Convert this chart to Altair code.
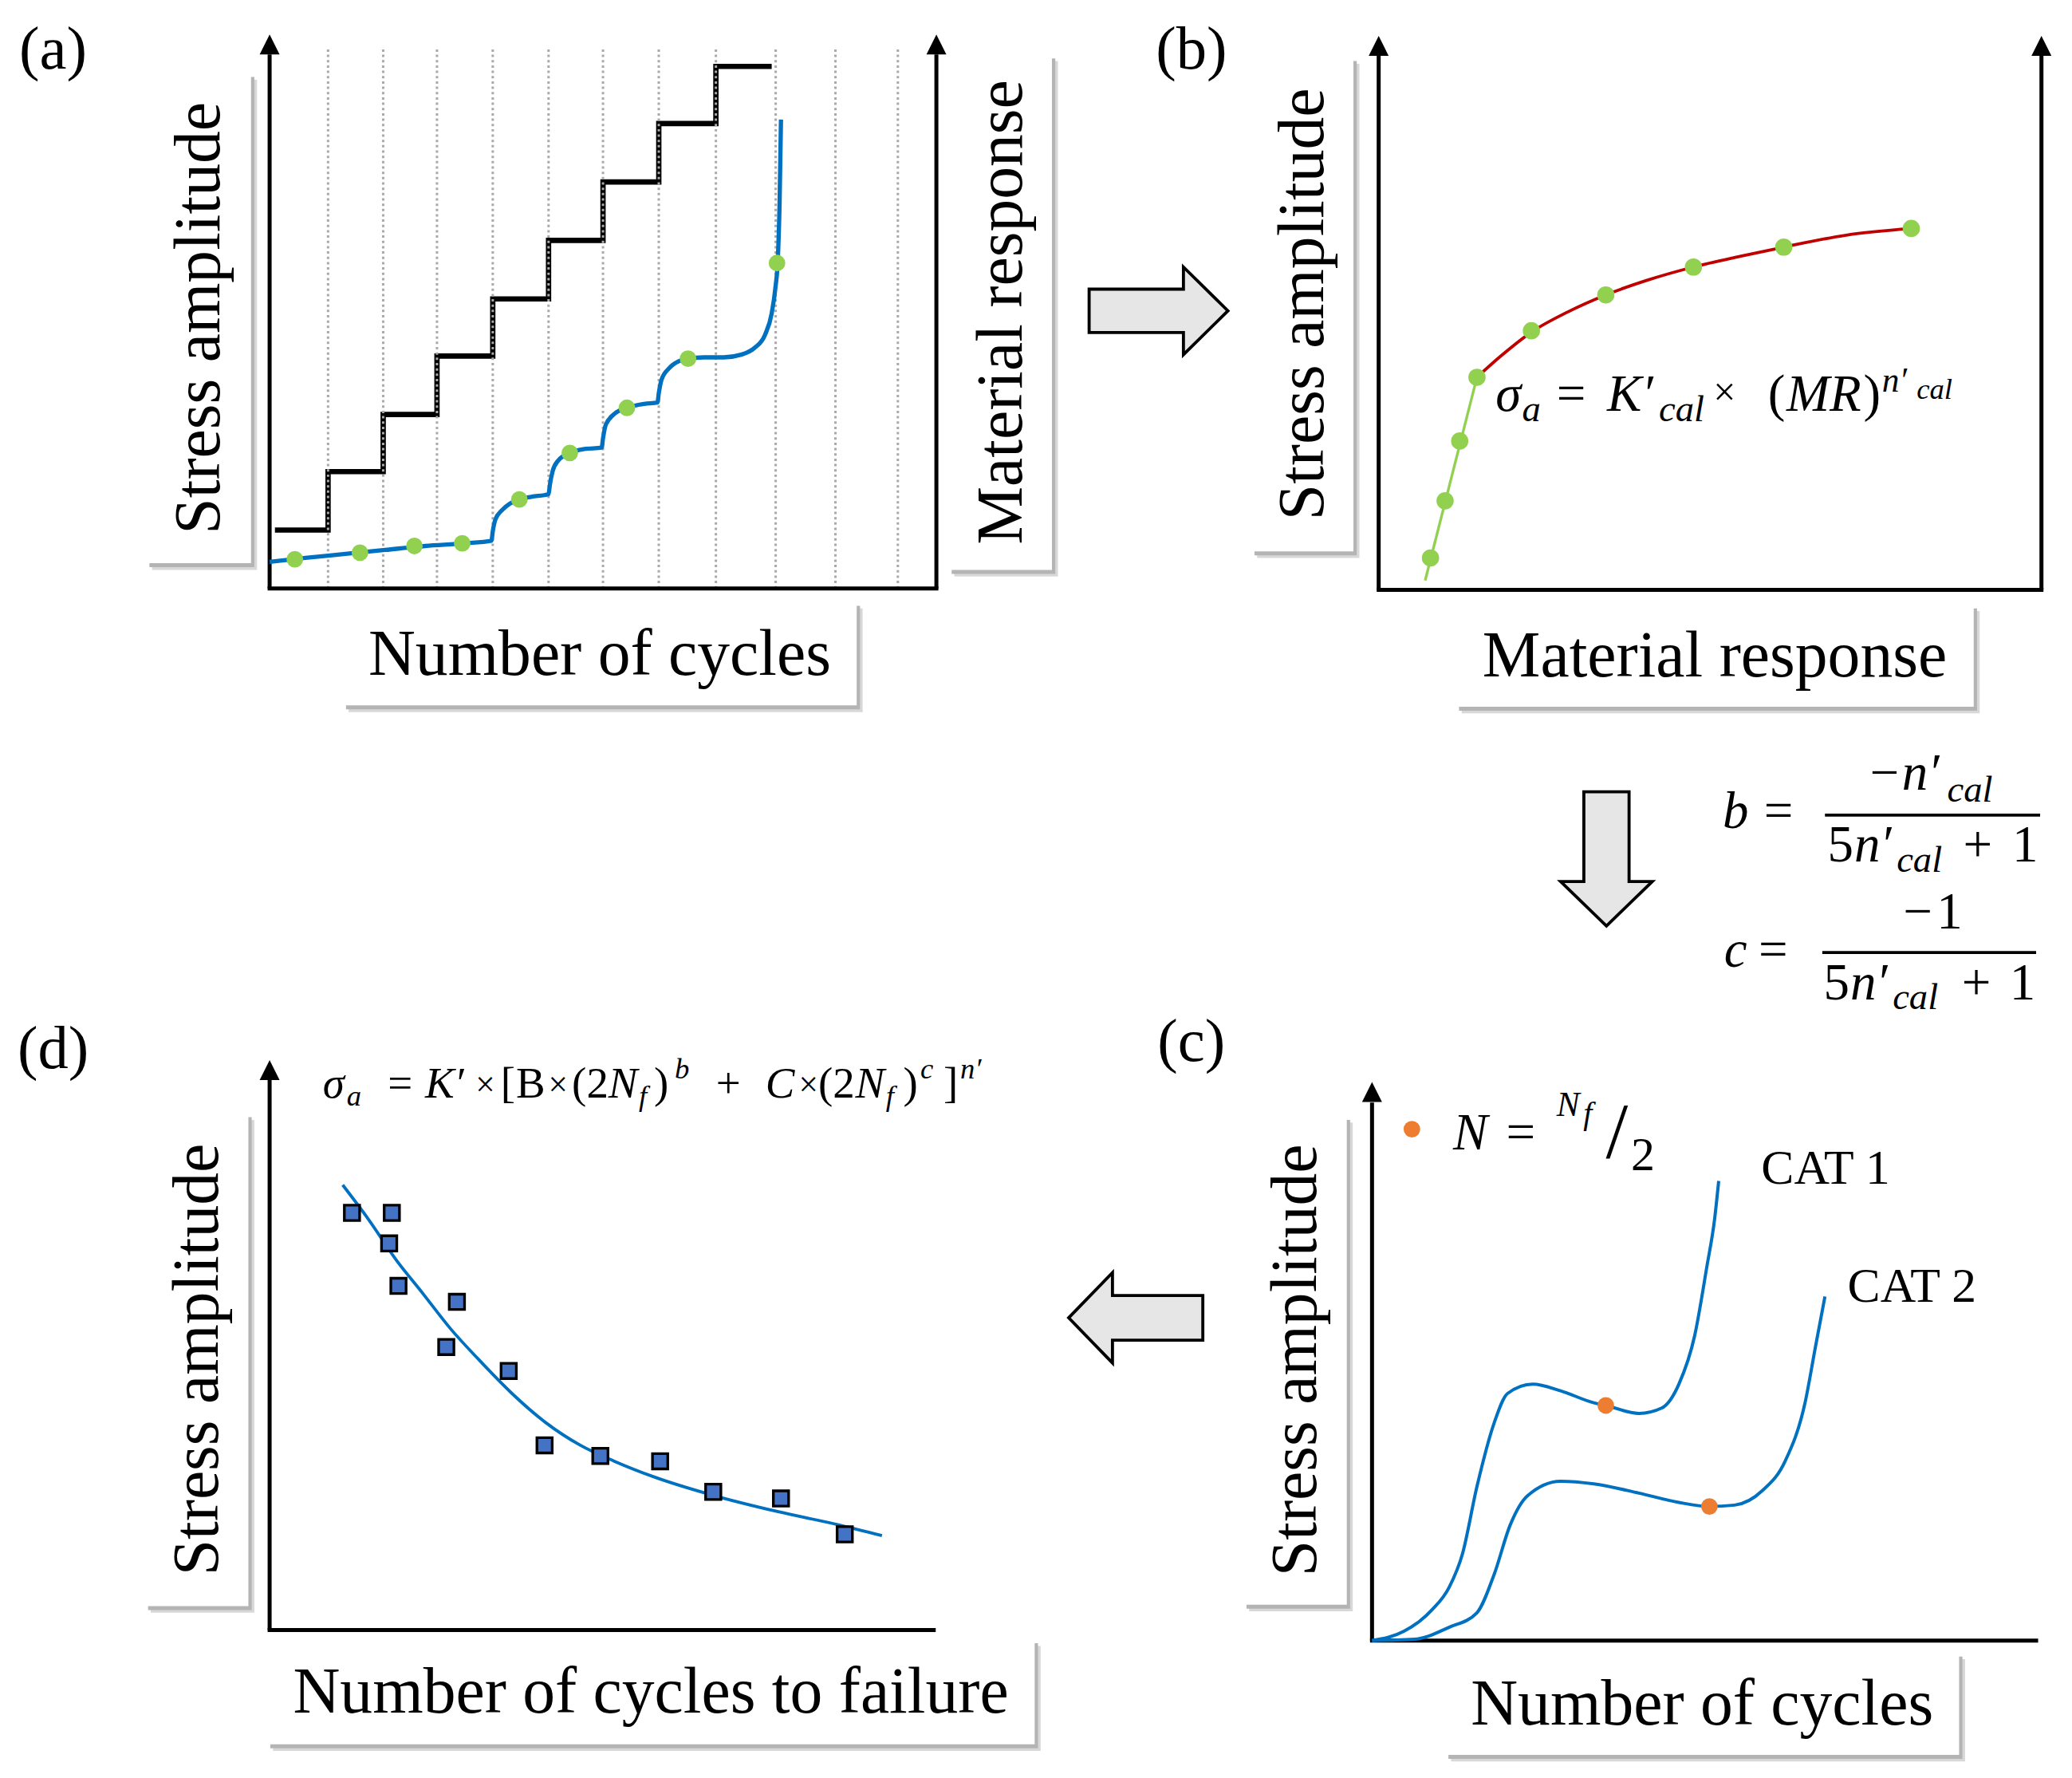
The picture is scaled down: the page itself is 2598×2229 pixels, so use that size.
import altair as alt
import pandas as pd

# ---------------- canvas (reference display units, 1560 x 1338) ----------------
K = 2598 / 1560.0
W, H = 2582, 2213
XS = alt.Scale(domain=[8 / K, (8 + W) / K], nice=False, zero=False)
YS = alt.Scale(domain=[8 / K, (8 + H) / K], nice=False, zero=False, reverse=True)
SERIF = "Liberation Serif"

# ---------------- data ----------------
# panel (a): staircase loading + material response
grid_a_x = [247, 288.5, 329, 371, 413, 454, 496, 539, 584, 629, 676]
stair_x = [207, 247, 288.5, 329, 371, 413, 454, 496, 539, 581]
stair_y = [399, 355, 312, 268, 225, 181, 137, 93, 50, 50]
resp_a_x = [203, 230, 260, 290, 320, 350, 370, 371, 373, 378, 384, 391, 400, 413,
            414, 416, 420, 429, 440, 453, 454, 456, 462, 472, 485, 495,
            496, 498, 504, 511, 518, 530, 545, 558, 568, 576, 581, 584, 585.5, 587, 588]
resp_a_y = [423, 420, 417, 414, 411, 409, 407, 400, 391, 384, 379, 376, 374, 372,
            365, 355, 347, 341, 338, 337, 330, 320, 312, 307, 304, 303,
            296, 286, 277, 272, 270, 269, 269, 267, 262, 252, 236, 215, 198, 150, 90]
dots_a_x = [222, 271, 312, 348, 391, 429, 472, 518, 585]
dots_a_y = [421, 416, 411, 409, 376, 341, 307, 270, 198]

# panel (b): stress amplitude vs material response
lin_b_x = [1073, 1112]
lin_b_y = [437, 284]
fit_b_x = [1112, 1130, 1153, 1180, 1209, 1240, 1275, 1310, 1343, 1390, 1439]
fit_b_y = [284, 268, 250, 235, 222, 211, 201, 193, 186, 177, 172]
dots_b_x = [1077, 1088, 1099, 1112, 1153, 1209, 1275, 1343, 1439]
dots_b_y = [420, 377, 332, 284, 249, 222, 201, 186, 172]

# panel (c): cyclic stress response curves
cat1_x = [1033, 1057, 1078, 1091, 1101, 1112, 1125, 1135, 1154, 1175, 1200, 1209,
          1234, 1251, 1264, 1276, 1285, 1291, 1294]
cat1_y = [1235, 1228, 1212, 1195, 1170, 1119, 1071, 1049, 1042, 1047, 1056, 1058,
          1064, 1060, 1042, 1005, 954, 917, 889]
cat2_x = [1033, 1065, 1091, 1112, 1125, 1137, 1150, 1175, 1200, 1234, 1264, 1287,
          1306, 1327, 1344, 1359, 1367, 1374]
cat2_y = [1235, 1234, 1225, 1214, 1185, 1148, 1126, 1115, 1117, 1124, 1131, 1134,
          1133, 1122, 1100, 1056, 1013, 976]
half_x = [1063, 1209, 1287]
half_y = [850, 1058, 1134]

# panel (d): stress amplitude vs cycles to failure
pts_d_x = [265, 295, 293, 300, 344, 336, 383, 410, 452, 497, 537, 588, 636]
pts_d_y = [913, 913, 936, 968, 980, 1014, 1032, 1088, 1096, 1100, 1123, 1128, 1155]
fit_d_x = [258, 277.5, 298, 318.6, 339, 360, 385.5, 411, 437, 462.6, 493, 534.6, 586, 632, 664]
fit_d_y = [892, 918, 948, 974, 1000, 1023, 1049, 1071, 1088, 1100, 1112, 1125, 1138, 1148, 1156]

# axes: origin, end of x axis, top of y axis, arrow-tip centre, right-hand axis?
ax_x0 = [203, 1038, 1033, 203]
ax_y0 = [443, 444, 1235, 1227]
ax_x1 = [705, 1537, 1533, 703]
ax_ytop = [41, 42, 830, 813]
ax_tip = [33.5, 34.5, 822, 805.5]
ax_right = [True, True, False, False]

# label boxes
box_text = ["Stress amplitude", "Material response", "Number of cycles",
            "Stress amplitude", "Material response",
            "Stress amplitude", "Number of cycles",
            "Stress amplitude", "Number of cycles to failure"]
box_x0 = [110, 714, 258, 942, 1096, 936, 1088, 109, 201]
box_x1 = [189, 792, 645, 1019, 1486, 1014, 1475, 187, 779]
box_y0 = [55, 41, 453, 43, 455, 840, 1244, 838, 1234]
box_y1 = [424, 429, 531, 415, 532, 1208, 1321, 1209, 1313]
box_vertical = [True, True, False, True, False, True, False, True, False]

panel_text = ["(a)", "(b)", "(c)", "(d)"]
panel_x = [40, 897, 897, 40]
panel_y = [38, 38, 785, 790]

cat_text = ["CAT 1", "CAT 2"]
cat_x = [1326, 1391]
cat_y = [891, 980]

# block arrows between panels (centre points)
arrow_names = ["right", "down", "left"]
arrow_cx = [872.25, 1209.5, 855.1]
arrow_cy = [234, 646.5, 992]

# math pieces: text, x (left), y (baseline), style group
math_t = ["σ", "a", "=", "K′", "cal", "×", "(", "MR", ")", "n′", "cal",
          "b", "=", "−", "n′", "cal", "5", "n′", "cal", "+", "1",
          "c", "=", "−", "1", "5", "n′", "cal", "+", "1",
          "N", "=", "N", "f", "/", "2",
          "σ", "a", "=", "K′", "×", "[", "B", "×", "(2", "N", "f", ")", "b", "+",
          "C", "×", "(2", "N", "f", ")", "c", "]", "n′"]
math_x = [1126, 1146, 1172, 1210, 1249, 1290, 1331, 1345, 1403, 1417, 1443,
          1297, 1328, 1408, 1432, 1466, 1376, 1396, 1428, 1478, 1515,
          1298, 1324, 1433, 1458, 1373, 1393, 1425, 1477, 1513,
          1094, 1134, 1172, 1192, 1209, 1228,
          243, 261, 292, 320, 358, 377, 388.5, 412.8, 430.6, 458, 481, 492.4, 508, 539,
          576.3, 601.4, 616, 644, 667, 680, 693, 710.4, 723]
math_y = [309, 317, 309, 309, 317, 305, 309, 309, 309, 295, 300,
          623.5, 623.5, 594.6, 594.6, 603.6, 648.6, 648.6, 656.6, 648.6, 648.6,
          727.6, 727.6, 698.7, 698.7, 752.6, 752.6, 759.6, 752.6, 752.6,
          865, 865, 840, 846, 871, 881,
          826, 832, 826, 826, 825, 826, 826, 825, 826, 826, 832, 826, 812, 826,
          826, 825, 826, 826, 832, 826, 812, 826, 812]
math_g = ["mI", "sI", "mU", "mI", "sI", "xU", "mU", "mI", "mU", "pI", "pc",
          "mI", "mU", "mU", "mI", "sI", "mU", "mI", "sI", "mU", "mU",
          "mI", "mU", "mU", "mU", "mU", "mI", "sI", "mU", "mU",
          "mI", "mU", "nI", "fI", "slU", "nU",
          "dI", "dsI", "dU", "dI", "dxU", "dU", "dU", "dxU", "dU", "dI", "dsI", "dU", "dsI", "dU",
          "dI", "dxU", "dU", "dI", "dsI", "dU", "dsI", "dU", "dsI"]
frac_x0 = [1374, 1372]
frac_x1 = [1536, 1533]
frac_y = [613.6, 717]

# ---------------- styles ----------------
MATH_STYLE = {  # group: (font size in display units, italic)
    "mI": (39, True), "mU": (39, False), "sI": (28, True), "xU": (30, False),
    "pI": (26, True), "pc": (22, True),
    "nI": (26, True), "fI": (24, True), "slU": (60, False), "nU": (36, False),
    "dI": (33, True), "dU": (33, False), "dsI": (22, True), "dxU": (26, False),
}
ARROW_SHAPE = {
    "right": "M-1,-0.313L0.359,-0.313L0.359,-0.632L1,0L0.359,0.632L0.359,0.313L-1,0.313Z",
    "down": "M-0.337,-1L0.337,-1L0.337,0.339L0.683,0.339L0,1L-0.683,0.339L-0.337,0.339Z",
    "left": "M1,-0.333L-0.347,-0.333L-0.347,-0.673L-1,0L-0.347,0.673L-0.347,0.333L1,0.333Z",
}
ARROW_SPAN = {"right": 104.5, "down": 101, "left": 101}
BLUE = "#0070C0"
GREEN = "#92D050"
RED = "#C00000"
ORANGE = "#ED7D31"


def px(v):
    return v * K


def X(f="x"):
    return alt.X(f"{f}:Q", scale=XS, axis=None)


def Y(f="y"):
    return alt.Y(f"{f}:Q", scale=YS, axis=None)


def line_layer(xs, ys, color, width, interp="linear", dash=None):
    df = pd.DataFrame({"x": xs, "y": ys, "i": list(range(len(xs)))})
    kw = dict(color=color, strokeWidth=width, interpolate=interp)
    if dash:
        kw["strokeDash"] = dash
    return alt.Chart(df).mark_line(**kw).encode(X(), Y(), order="i:Q")


def pts_layer(xs, ys, **kw):
    df = pd.DataFrame({"x": xs, "y": ys})
    return alt.Chart(df).mark_point(opacity=1, **kw).encode(X(), Y())


def seg_layer(x0, y0, x1, y1, color, width, dash=None, cap="butt"):
    df = pd.DataFrame({"x": x0, "y": y0, "x2": x1, "y2": y1})
    kw = dict(color=color, strokeWidth=width, strokeCap=cap)
    if dash:
        kw["strokeDash"] = dash
    return alt.Chart(df).mark_rule(**kw).encode(X(), Y(), x2="x2:Q", y2="y2:Q")


def rect_layer(x0, x1, y0, y1, color, dx=0, dy=0, opacity=1.0):
    df = pd.DataFrame({"x": [v + dx for v in x0], "x2": [v + dx for v in x1],
                       "y": [v + dy for v in y0], "y2": [v + dy for v in y1]})
    return alt.Chart(df).mark_rect(color=color, opacity=opacity).encode(X(), Y(), x2="x2:Q", y2="y2:Q")


def text_layer(ts, xs, ys, size, italic=False, align="left", baseline="alphabetic", angle=0):
    df = pd.DataFrame({"x": xs, "y": ys, "t": ts})
    kw = dict(font=SERIF, fontSize=px(size), align=align, baseline=baseline, color="black")
    if italic:
        kw["fontStyle"] = "italic"
    if angle:
        kw["angle"] = angle
    return alt.Chart(df).mark_text(**kw).encode(X(), Y(), text="t:N")


layers = []

# label boxes with soft shadows
layers.append(rect_layer(box_x0, box_x1, box_y0, box_y1, "#d8d8d8", dx=4.5, dy=5))
layers.append(rect_layer(box_x0, box_x1, box_y0, box_y1, "#b4b4b4", dx=2.5, dy=3))
layers.append(rect_layer(box_x0, box_x1, box_y0, box_y1, "white"))

# panel (a) staircase and dotted grid
layers.append(line_layer(stair_x, stair_y, "black", px(4), interp="step-after"))
layers.append(seg_layer(grid_a_x, [443] * len(grid_a_x), grid_a_x, [37] * len(grid_a_x),
                        "#a9a9a9", px(1.8), dash=[px(1.8), px(2.2)]))

# axes
ax_v = [(x0, y0, x0, yt) for x0, y0, yt in zip(ax_x0, ax_y0, ax_ytop)]
ax_v += [(x1, y0, x1, yt) for x1, y0, yt, r in zip(ax_x1, ax_y0, ax_ytop, ax_right) if r]
ax_h = [(x0 - 1.5, y0, x1 + 1.5, y0) for x0, y0, x1 in zip(ax_x0, ax_y0, ax_x1)]
segs = ax_v + ax_h
layers.append(seg_layer([s[0] for s in segs], [s[1] for s in segs],
                        [s[2] for s in segs], [s[3] for s in segs], "black", px(3)))
tip_x = list(ax_x0) + [x for x, r in zip(ax_x1, ax_right) if r]
tip_y = list(ax_tip) + [t for t, r in zip(ax_tip, ax_right) if r]
layers.append(pts_layer(tip_x, tip_y, shape="M-1,1L0,-1L1,1Z", size=px(15) ** 2,
                        filled=True, color="black"))

# curves
layers.append(line_layer(resp_a_x, resp_a_y, BLUE, px(3.2), interp="monotone"))
layers.append(line_layer(lin_b_x, lin_b_y, GREEN, px(2)))
layers.append(line_layer(fit_b_x, fit_b_y, RED, px(2.3), interp="monotone"))
layers.append(line_layer(cat1_x, cat1_y, BLUE, px(2.4), interp="monotone"))
layers.append(line_layer(cat2_x, cat2_y, BLUE, px(2.4), interp="monotone"))
layers.append(line_layer(fit_d_x, fit_d_y, BLUE, px(2.3), interp="monotone"))

# markers
layers.append(pts_layer(dots_a_x, dots_a_y, shape="circle", size=px(12.5) ** 2,
                        filled=True, color=GREEN))
layers.append(pts_layer(dots_b_x, dots_b_y, shape="circle", size=px(13) ** 2,
                        filled=True, color=GREEN))
layers.append(pts_layer(half_x, half_y, shape="circle", size=px(12.5) ** 2,
                        filled=True, color=ORANGE))
layers.append(pts_layer(pts_d_x, pts_d_y, shape="square", size=px(11.5) ** 2,
                        filled=True, fill="#4472C4", stroke="black", strokeWidth=px(2)))

# block arrows
for name, cx, cy in zip(arrow_names, arrow_cx, arrow_cy):
    layers.append(pts_layer([cx], [cy], shape=ARROW_SHAPE[name], size=px(ARROW_SPAN[name]) ** 2,
                            filled=True, fill="#E6E6E6", stroke="black", strokeWidth=px(2.3)))

# fraction bars
layers.append(seg_layer(frac_x0, frac_y, frac_x1, frac_y, "black", px(2.2)))

# box labels
cx = [(a + b) / 2 for a, b in zip(box_x0, box_x1)]
cy = [(a + b) / 2 for a, b in zip(box_y0, box_y1)]
vt = [t for t, v in zip(box_text, box_vertical) if v]
hx = [t for t, v in zip(box_text, box_vertical) if not v]
layers.append(text_layer(vt, [c + 1.5 for c, v in zip(cx, box_vertical) if v],
                         [c for c, v in zip(cy, box_vertical) if v], 49,
                         align="center", baseline="middle", angle=270))
layers.append(text_layer(hx, [c for c, v in zip(cx, box_vertical) if not v],
                         [c + 1.5 for c, v in zip(cy, box_vertical) if not v], 49,
                         align="center", baseline="middle"))

# panel letters and CAT labels
layers.append(text_layer(panel_text, panel_x, panel_y, 46, align="center", baseline="middle"))
layers.append(text_layer(cat_text, cat_x, cat_y, 37))

# math
mdf = pd.DataFrame({"t": math_t, "x": math_x, "y": math_y, "g": math_g})
for g, (sz, it) in MATH_STYLE.items():
    sub = mdf[mdf["g"] == g]
    if len(sub):
        layers.append(text_layer(list(sub["t"]), list(sub["x"]), list(sub["y"]), sz, italic=it))

chart = alt.layer(*layers).properties(
    width=W, height=H, padding=0, background="white",
    autosize=alt.AutoSizeParams(type="none"),
).configure_view(stroke=None)

chart.save("out.html", embed_options={"renderer": "svg", "actions": False})
